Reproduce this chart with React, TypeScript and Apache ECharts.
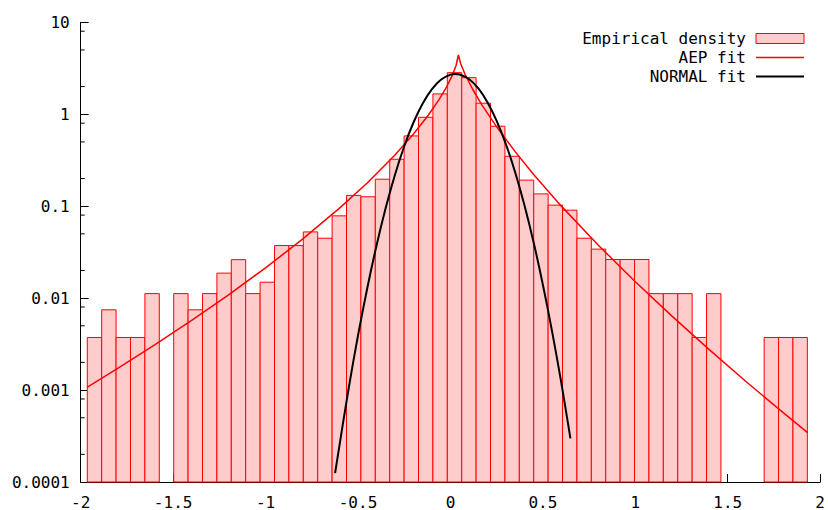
import React, { useEffect, useRef } from "react";
import * as echarts from "echarts";

// Histogram definition
const BIN_START = -1.9644;
const BIN_WIDTH = 0.0779;
const densities: (number | null)[] = [
  0.00373, 0.00746, 0.00373, 0.00373, 0.0112, null, 0.0112, 0.00746, 0.0112, 0.0187,
  0.0262, 0.0112, 0.0149, 0.0373, 0.0373, 0.0525, 0.0448, 0.0785, 0.131, 0.1265,
  0.1965, 0.324, 0.581, 0.927, 1.663, 2.833, 2.5, 1.318, 0.741, 0.349,
  0.192, 0.136, 0.1026, 0.0905, 0.0448, 0.0341, 0.0263, 0.0263, 0.0263, 0.0112,
  0.0112, 0.0112, 0.00373, 0.0112, null, null, null, 0.00373, 0.00373, 0.00373,
];

// AEP fit curve
const aepX = [
  -1.966, -1.8, -1.6, -1.4, -1.2, -1.0, -0.8, -0.6, -0.45, -0.3, -0.2, -0.12, -0.06, -0.02, 0.01, 0.03, 0.043,
  0.055, 0.08, 0.12, 0.17, 0.25, 0.35, 0.45, 0.6, 0.8, 1.0, 1.2, 1.4, 1.6, 1.8, 1.932,
];
const aepY = [
  0.00107, 0.00172, 0.0031, 0.00572, 0.01087, 0.02136, 0.0438, 0.0952, 0.179, 0.361, 0.61, 0.976, 1.46, 2.0, 2.65, 3.37, 4.41,
  3.56, 2.69, 1.87, 1.265, 0.728, 0.392, 0.2215, 0.1001, 0.0376, 0.01506, 0.00633, 0.00275, 0.00123, 0.000568, 0.000344,
];

// NORMAL fit curve
const normX = [
  -0.624, -0.55, -0.5, -0.45, -0.4, -0.35, -0.3, -0.25, -0.2, -0.15, -0.1, -0.05, 0, 0.027,
  0.05, 0.1, 0.15, 0.2, 0.25, 0.3, 0.35, 0.4, 0.45, 0.5, 0.55, 0.6, 0.649,
];
const normY = [
  0.000125, 0.00106, 0.00392, 0.0128, 0.0372, 0.0959, 0.22, 0.4485, 0.813, 1.309, 1.873, 2.382, 2.693, 2.74,
  2.706, 2.416, 1.918, 1.353, 0.848, 0.4724, 0.234, 0.1029, 0.0403, 0.014, 0.00432, 0.00119, 0.000298,
];

const yTickLabels = ["0.0001", "0.001", "0.01", "0.1", "1", "10"];
const yMinorTicks = [
  0.0002, 0.0005, 0.0008, 0.002, 0.005, 0.008, 0.02, 0.05, 0.08, 0.2, 0.5, 0.8, 2, 5, 8,
];
const legendLabels = ["Empirical density", "AEP fit", "NORMAL fit"];

const X_MIN = -2;
const X_MAX = 2;
const Y_MIN = 0.0001;
const Y_MAX = 10;
const FONT = "DejaVu Sans Mono";
const FONT_SIZE = 16;
const PINK = "#ffcccc";
const RED = "#ff0000";

export default function App() {
  const ref = useRef<HTMLDivElement>(null);
  useEffect(() => {
    if (!ref.current) return;
    const chart = echarts.init(ref.current, undefined, { renderer: "svg" });

    const barData: number[][] = [];
    densities.forEach((d, k) => {
      if (d != null) barData.push([BIN_START + k * BIN_WIDTH, BIN_START + (k + 1) * BIN_WIDTH, d]);
    });

    const legendX = 746;
    const sampleX = 756;
    const sampleW = 48;
    const rows = [38.5, 57.5, 76.5];

    chart.setOption({
      animation: false,
      backgroundColor: "#ffffff",
      grid: { left: 80.7, right: 5.3, top: 22.3, bottom: 27.7, containLabel: false },
      xAxis: {
        type: "value",
        min: X_MIN,
        max: X_MAX,
        interval: 0.5,
        axisLine: { show: true, onZero: false, lineStyle: { color: "#000", width: 1 } },
        axisTick: { show: true, inside: true, length: 8, lineStyle: { color: "#000" } },
        splitLine: { show: false },
        axisLabel: {
          show: true,
          margin: 12,
          fontFamily: FONT,
          fontSize: FONT_SIZE,
          color: "#000",
          showMinLabel: true,
          showMaxLabel: true,
          formatter: (v: number) => String(Math.round(v * 10) / 10),
        },
      },
      yAxis: {
        type: "log",
        logBase: 10,
        min: Y_MIN,
        max: Y_MAX,
        axisLine: { show: true, onZero: false, lineStyle: { color: "#000", width: 1 } },
        axisTick: { show: true, inside: true, length: 8, lineStyle: { color: "#000" } },
        splitLine: { show: false },
        minorTick: { show: false },
        axisLabel: {
          show: true,
          margin: 11,
          fontFamily: FONT,
          fontSize: FONT_SIZE,
          color: "#000",
          formatter: (v: number) => yTickLabels[Math.round(Math.log10(v)) + 4] ?? "",
        },
      },
      series: [
        {
          type: "custom",
          name: "Empirical density",
          data: barData,
          encode: { x: [0, 1], y: 2 },
          renderItem: (_params: any, api: any) => {
            const l = api.value(0);
            const r = api.value(1);
            const v = api.value(2);
            const p0 = api.coord([l, v]);
            const p1 = api.coord([r, Y_MIN]);
            return {
              type: "rect",
              shape: { x: p0[0], y: p0[1], width: p1[0] - p0[0], height: p1[1] - p0[1] },
              style: { fill: PINK, stroke: RED, lineWidth: 1 },
            };
          },
          z: 1,
        },
        {
          type: "custom",
          name: "minorTicks",
          data: yMinorTicks.map((v) => [X_MIN, v]),
          encode: { x: 0, y: 1 },
          renderItem: (_params: any, api: any) => {
            const p = api.coord([api.value(0), api.value(1)]);
            return {
              type: "line",
              shape: { x1: p[0], y1: p[1], x2: p[0] + 4, y2: p[1] },
              style: { stroke: "#000", lineWidth: 1 },
            };
          },
          silent: true,
          z: 5,
        },
        {
          type: "line",
          name: "AEP fit",
          data: aepX.map((x, i) => [x, aepY[i]]),
          showSymbol: false,
          symbol: "none",
          smooth: false,
          lineStyle: { color: RED, width: 1.5 },
          z: 3,
        },
        {
          type: "line",
          name: "NORMAL fit",
          data: normX.map((x, i) => [x, normY[i]]),
          showSymbol: false,
          symbol: "none",
          smooth: 0.3,
          lineStyle: { color: "#000", width: 2 },
          z: 4,
        },
      ],
      graphic: [
        ...legendLabels.map((t, i) => ({
          type: "text",
          x: legendX,
          y: rows[i],
          style: {
            text: t,
            fontFamily: FONT,
            fontSize: FONT_SIZE,
            fill: "#000",
            textAlign: "right",
            textVerticalAlign: "middle",
          },
        })),
        {
          type: "rect",
          shape: { x: sampleX, y: rows[0] - 5, width: sampleW, height: 10 },
          style: { fill: PINK, stroke: RED, lineWidth: 1 },
        },
        {
          type: "line",
          shape: { x1: sampleX, y1: rows[1], x2: sampleX + sampleW, y2: rows[1] },
          style: { stroke: RED, lineWidth: 1.5 },
        },
        {
          type: "line",
          shape: { x1: sampleX, y1: rows[2], x2: sampleX + sampleW, y2: rows[2] },
          style: { stroke: "#000", lineWidth: 2 },
        },
      ],
    });

    return () => chart.dispose();
  }, []);

  return (
    <div
      ref={ref}
      style={{ position: "absolute", left: 0, top: 0, width: 828, height: 510, background: "#fff" }}
    />
  );
}
